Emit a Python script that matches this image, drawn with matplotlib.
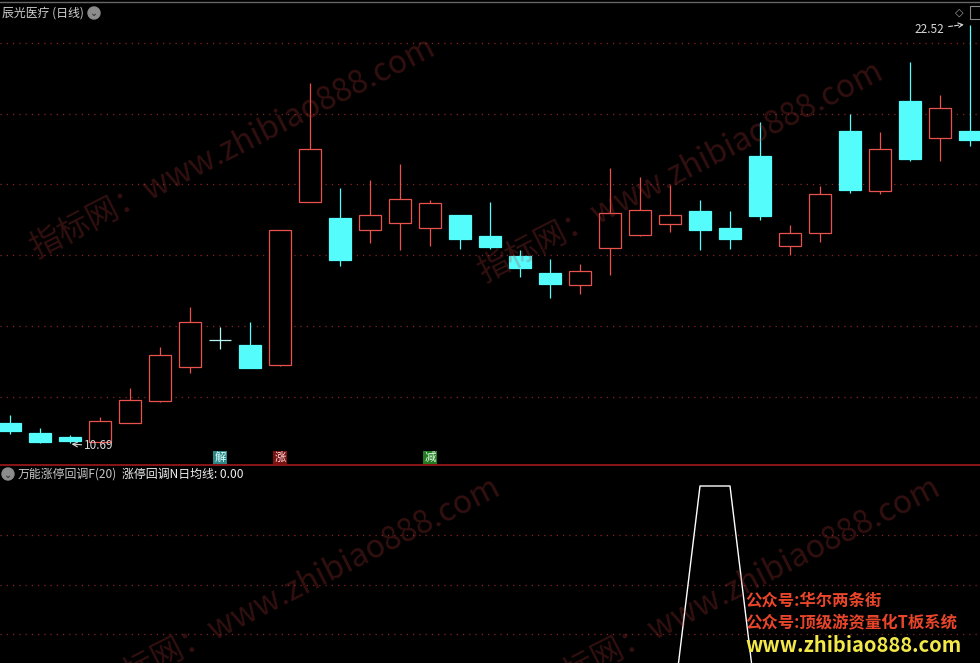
import matplotlib
matplotlib.use("Agg")
import matplotlib.pyplot as plt
from matplotlib.lines import Line2D
from matplotlib.patches import Circle, Rectangle

plt.rcParams['font.family'] = ['Noto Sans CJK SC', 'DejaVu Sans']

# --- 行情数据 (日线) ---
opens = [11.26, 10.97, 10.86, 10.72, 11.27, 11.89, 12.85, 13.60, 13.46, 12.90,
         17.51, 17.04, 16.71, 16.92, 16.78, 17.14, 16.54, 15.98, 15.49, 15.16,
         16.21, 16.57, 16.87, 17.25, 16.76, 18.80, 16.27, 16.62, 19.51, 17.82,
         20.36, 19.30, 19.51]
closes = [11.04, 10.71, 10.75, 11.31, 11.91, 13.18, 14.10, 13.60, 12.82, 16.72,
          18.99, 15.86, 17.14, 17.58, 17.47, 16.46, 16.23, 15.65, 15.19, 15.55,
          17.18, 17.27, 17.14, 16.71, 16.46, 17.11, 16.62, 17.72, 17.84, 18.99,
          18.73, 20.15, 19.26]
highs = [11.48, 11.11, 10.92, 11.42, 12.25, 13.41, 14.54, 13.96, 14.12, 16.72,
         20.86, 17.89, 18.12, 18.58, 17.56, 17.14, 17.49, 16.15, 15.88, 15.74,
         18.46, 18.20, 17.98, 17.56, 17.25, 19.76, 16.85, 17.96, 19.98, 19.47,
         21.46, 20.53, 22.52]
lows = [10.95, 10.70, 10.69, 10.70, 11.25, 11.86, 12.68, 13.34, 12.82, 12.88,
        17.50, 15.69, 16.35, 16.15, 16.26, 16.17, 16.17, 15.38, 14.80, 14.90,
        15.44, 16.55, 16.66, 16.15, 16.18, 16.99, 16.01, 16.38, 17.77, 17.73,
        18.66, 18.66, 19.09]
# 万能涨停回调F(20) 指标值
ind_vals = [0] * 23 + [1, 1] + [0] * 8
# 信号标记: (K线序号, 文字)
signals = [(7, '解'), (9, '涨'), (14, '减')]
price_grid = [12, 14, 16, 18, 20, 22]
ind_grid = [0.4, 0.6, 0.8]

RED = '#e8524f'
CYAN = '#54fcfc'
GRID = '#8a2020'
W, H = 980, 663

fig = plt.figure(figsize=(9.8, 6.63), dpi=100, facecolor='black')
# 主图
ax = fig.add_axes([0, (H - 464) / H, 1, 461 / H], facecolor='black')
# 副图
ax2 = fig.add_axes([0, 0, 1, 197 / H], facecolor='black')
for a in (ax, ax2):
    a.set_axis_off()
    a.set_xlim(-0.333, 32.333)

ax.set_ylim(10.098, 23.128)
ax2.set_ylim(0.283, 1.081)

for g in price_grid:
    ax.axhline(g, color=GRID, lw=0.9, linestyle=(0, (1, 4)), zorder=1)
for g in ind_grid:
    ax2.axhline(g, color=GRID, lw=0.9, linestyle=(0, (1, 4)), zorder=1)

# K线
xs = list(range(len(opens)))
bw = 0.74
for i in xs:
    o, c, h, l = opens[i], closes[i], highs[i], lows[i]
    top, bot = max(o, c), min(o, c)
    if c > o:
        col = RED
        ax.bar(i, top - bot, bottom=bot, width=bw, facecolor='black',
               edgecolor=col, linewidth=0.9, zorder=3)
    elif c < o:
        col = CYAN
        ax.bar(i, top - bot, bottom=bot, width=bw, facecolor=col,
               edgecolor=col, linewidth=0.9, zorder=3)
    else:
        col = '#b8f4f4'
        ax.hlines(o, i - bw / 2, i + bw / 2, color=col, lw=0.9, zorder=3)
    if h > top:
        ax.vlines(i, top, h, color=col, lw=0.9, zorder=2)
    if l < bot:
        ax.vlines(i, l, bot, color=col, lw=0.9, zorder=2)

# 最高/最低价标注
imax = highs.index(max(highs))
imin = lows.index(min(lows))
ax.annotate(f'{highs[imax]:.2f}', xy=(imax - 0.2, highs[imax]),
            xytext=(imax - 0.85, highs[imax] - 0.13), color='#d8d8d8',
            fontsize=8.5, ha='right', va='center',
            arrowprops=dict(arrowstyle='->', color='#d8d8d8', lw=0.8,
                            linestyle='--', shrinkA=1, shrinkB=0))
ax.annotate(f'{lows[imin]:.2f}', xy=(imin + 0.05, lows[imin] - 0.03),
            xytext=(imin + 0.48, lows[imin] - 0.08), color='#d8d8d8',
            fontsize=8.5, ha='left', va='center',
            arrowprops=dict(arrowstyle='->', color='#d8d8d8', lw=0.8,
                            shrinkA=0, shrinkB=0))

# 信号
sig_style = {'解': ('#2f8585', '#d8ffff'), '涨': ('#7a1212', '#ffe0e0'),
             '减': ('#237a23', '#e0ffe0')}
for i, s in signals:
    bg, fg = sig_style[s]
    ax.text(i, 10.285, s, color=fg, fontsize=8.2, ha='center', va='center',
            zorder=5, bbox=dict(boxstyle='square,pad=0.1', facecolor=bg,
                                edgecolor='none'))

# 副图指标线
ax2.plot(xs, ind_vals, color='white', lw=1.0, zorder=3)


def px(x, y):
    # 像素 -> 英寸坐标
    return (x / 100, (H - y) / 100)


def icon(x, y):
    fig.patches.append(Circle(px(x, y), 0.06, color='#8c8c8c',
                              transform=fig.dpi_scale_trans, figure=fig))
    fig.text(x / W, 1 - (y + 0.5) / H, '⌄', color='#2a2a2a', fontsize=7,
             ha='center', va='center', family='DejaVu Sans')


# 标题
fig.text(2 / W, 1 - 13 / H, '辰光医疗 (日线)', color='#d0d0d0', fontsize=8.6,
         ha='left', va='center')
icon(94, 13)
fig.text(959 / W, 1 - 13 / H, '◇', color='#a0a0a0', fontsize=8,
         ha='center', va='center', family='DejaVu Sans')
fig.patches.append(Rectangle(px(970, 19), 0.12, 0.13, facecolor='none',
                             edgecolor='#888888', lw=0.8,
                             transform=fig.dpi_scale_trans, figure=fig))
fig.lines.append(Line2D([0, 1], [1 - 1.5 / H, 1 - 1.5 / H], color='#666666',
                        lw=1.0, transform=fig.transFigure))
# 分隔线
fig.lines.append(Line2D([0, 1], [1 - 464.8 / H, 1 - 464.8 / H], color='#8a1515',
                        lw=1.4, transform=fig.transFigure))

# 副图标题
icon(8, 474)
fig.text(18 / W, 1 - 474 / H, '万能涨停回调F(20)', color='#c8c8c8', fontsize=8.6,
         ha='left', va='center')
fig.text(122 / W, 1 - 474 / H, '涨停回调N日均线: 0.00', color='#f0f0f0',
         fontsize=8.6, ha='left', va='center')

# 水印
wm = '指标网：www.zhibiao888.com'
for cx, cy in [(232, 148), (680, 172), (297, 588), (737, 588)]:
    fig.text(cx / W, 1 - cy / H, wm, color='#b83a3a', alpha=0.28, fontsize=23,
             rotation=27, ha='center', va='center', rotation_mode='anchor')

# 右下角文字
fig.text(745 / W, 1 - 601 / H, '公众号:华尔两条街', color='#e8452a', fontsize=11.8,
         fontweight='bold', ha='left', va='center')
fig.text(745 / W, 1 - 623 / H, '公众号:顶级游资量化T板系统', color='#e8452a',
         fontsize=11.8, fontweight='bold', ha='left', va='center')
fig.text(745 / W, 1 - 645 / H, 'www.zhibiao888.com', color='#f2e84a',
         fontsize=14.5, fontweight='bold', ha='left', va='center')

fig.savefig('out.png', dpi=100, facecolor='black')
